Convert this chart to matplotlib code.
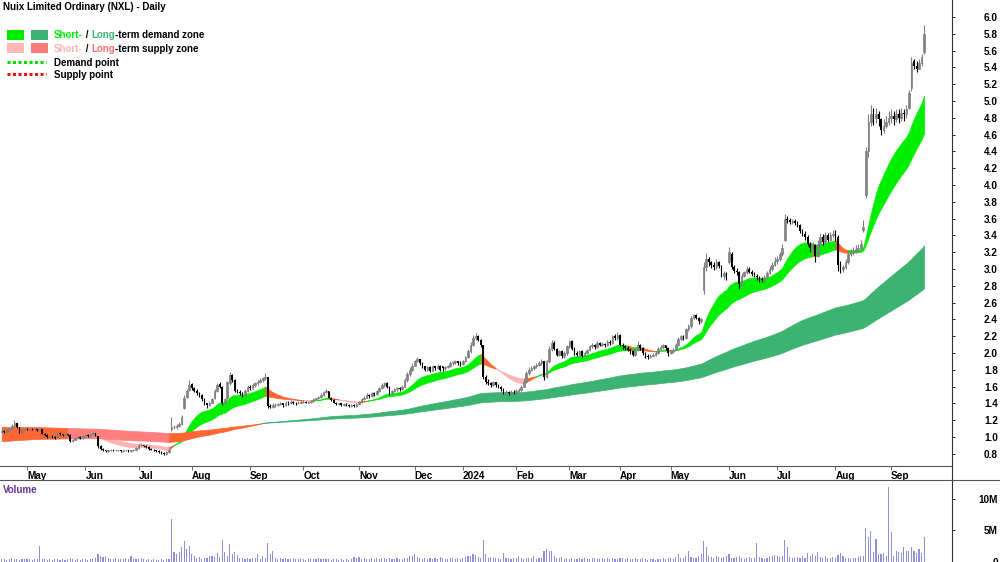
import numpy as np
import pandas as pd
import matplotlib
matplotlib.use('Agg')
import matplotlib.pyplot as plt
from matplotlib.patches import Rectangle
from matplotlib.lines import Line2D

plt.rcParams['font.family'] = ['Liberation Sans', 'DejaVu Sans']

# ASX trading days, 14 Apr 2023 - 19 Sep 2024
holidays = ['2023-04-25', '2023-06-12', '2023-12-25', '2023-12-26', '2024-01-01',
            '2024-01-26', '2024-03-29', '2024-04-01', '2024-04-25', '2024-06-10']
dates = pd.bdate_range('2023-04-14', '2024-09-19', freq='C', holidays=holidays)

# daily prices, one line per month
opens = [
    1.06,1.07,1.06,1.08,1.10,1.13,1.17,1.12,1.06,1.08,
    1.10,1.09,1.10,1.09,1.10,1.08,1.09,1.04,1.02,1.00,1.01,1.00,0.99,1.05,1.03,1.02,1.03,1.02,0.95,0.97,0.99,1.00,0.99,
    1.01,1.02,1.01,1.03,1.05,1.01,0.89,0.86,0.84,0.83,0.84,0.85,0.84,0.84,0.84,0.83,0.84,0.84,0.83,0.84,0.85,
    0.87,0.90,0.91,0.89,0.88,0.86,0.85,0.84,0.83,0.82,0.81,0.80,0.82,1.09,1.12,1.12,1.13,1.15,1.34,1.48,1.56,
    1.63,1.58,1.55,1.52,1.50,1.45,1.40,1.38,1.41,1.46,1.55,1.63,1.60,1.40,1.46,1.64,1.74,1.68,1.55,1.54,1.52,1.50,1.55,
    1.60,1.58,1.62,1.64,1.66,1.68,1.70,1.71,1.37,1.36,1.38,1.38,1.39,1.40,1.38,1.41,1.40,1.42,1.41,1.40,1.41,
    1.42,1.42,1.41,1.42,1.43,1.45,1.46,1.48,1.50,1.54,1.55,1.47,1.44,1.41,1.39,1.40,1.38,1.39,1.38,1.37,1.38,1.37,
    1.39,1.42,1.45,1.47,1.50,1.49,1.52,1.51,1.55,1.58,1.62,1.64,1.60,1.52,1.55,1.57,1.58,1.57,1.60,1.68,1.75,1.80,
    1.85,1.90,1.93,1.88,1.84,1.80,1.83,1.79,1.84,1.82,1.85,1.84,1.82,1.83,1.84,1.88,1.89,1.90,1.88,
    1.87,1.90,1.95,2.02,2.10,2.18,2.20,2.16,2.09,1.72,1.66,1.64,1.62,1.65,1.62,1.60,1.57,1.53,1.54,1.52,1.54,
    1.53,1.55,1.56,1.60,1.66,1.76,1.80,1.82,1.84,1.86,1.88,1.90,1.72,1.90,2.05,2.12,2.05,1.98,2.02,1.96,2.00,
    2.08,2.14,2.05,2.00,1.98,2.02,1.97,2.00,2.03,2.08,2.10,2.07,2.12,2.10,2.11,2.09,2.13,2.12,2.20,2.18,
    2.22,2.10,2.08,2.06,2.04,2.02,1.98,2.04,2.10,2.06,2.00,1.97,1.95,1.97,1.98,2.00,2.05,2.07,2.09,2.06,
    2.00,2.02,2.04,2.10,2.17,2.20,2.18,2.28,2.32,2.42,2.45,2.42,2.38,2.75,3.02,3.12,3.08,3.05,3.02,3.08,3.04,2.92,2.95,
    3.08,3.18,3.02,2.98,2.96,2.82,2.92,2.96,3.00,2.97,2.94,2.92,2.90,2.88,2.87,2.90,2.95,3.00,3.05,
    3.10,3.12,3.18,3.35,3.60,3.58,3.56,3.57,3.55,3.52,3.45,3.42,3.38,3.30,3.25,3.28,3.15,3.30,3.38,3.32,3.40,3.35,3.40,
    3.42,3.38,3.05,3.00,3.02,3.08,3.18,3.20,3.22,3.24,3.25,3.46,3.88,4.40,4.75,4.85,4.80,4.85,4.78,4.65,4.70,4.75,
    4.80,4.82,4.78,4.85,4.80,4.86,4.84,4.92,5.15,5.48,5.42,5.38,5.45,5.58,
]
highs = [
    1.09,1.08,1.09,1.11,1.15,1.20,1.17,1.12,1.09,1.11,
    1.11,1.11,1.11,1.11,1.10,1.10,1.09,1.05,1.03,1.02,1.02,1.01,1.06,1.06,1.04,1.04,1.04,1.03,0.98,1.00,1.01,1.01,1.02,
    1.03,1.03,1.04,1.06,1.05,1.01,0.90,0.87,0.85,0.85,0.86,0.86,0.85,0.85,0.85,0.85,0.85,0.85,0.85,0.86,0.88,
    0.92,0.93,0.91,0.90,0.89,0.87,0.86,0.85,0.84,0.83,0.82,0.83,0.86,1.24,1.14,1.15,1.18,1.26,1.50,1.57,1.68,
    1.64,1.60,1.57,1.54,1.51,1.46,1.41,1.43,1.47,1.57,1.64,1.65,1.61,1.47,1.67,1.77,1.75,1.69,1.57,1.56,1.54,1.57,1.62,
    1.62,1.64,1.66,1.68,1.70,1.72,1.76,1.72,1.39,1.40,1.40,1.41,1.42,1.41,1.43,1.43,1.44,1.43,1.42,1.43,1.44,
    1.44,1.43,1.43,1.44,1.46,1.47,1.49,1.52,1.55,1.57,1.55,1.48,1.45,1.42,1.41,1.41,1.40,1.40,1.39,1.39,1.39,1.40,
    1.43,1.47,1.49,1.52,1.51,1.54,1.53,1.56,1.60,1.64,1.66,1.65,1.61,1.56,1.58,1.60,1.59,1.62,1.70,1.77,1.83,1.88,
    1.92,1.95,1.93,1.89,1.85,1.85,1.84,1.86,1.85,1.87,1.86,1.84,1.85,1.86,1.90,1.91,1.92,1.91,1.90,
    1.92,1.97,2.05,2.13,2.21,2.24,2.21,2.17,2.10,1.74,1.69,1.66,1.67,1.66,1.63,1.61,1.58,1.56,1.55,1.56,1.56,
    1.57,1.58,1.62,1.68,1.78,1.83,1.84,1.86,1.88,1.90,1.93,1.91,1.92,2.08,2.16,2.14,2.06,2.04,2.03,2.02,2.10,
    2.16,2.15,2.07,2.02,2.04,2.03,2.02,2.05,2.10,2.12,2.11,2.14,2.13,2.13,2.12,2.15,2.15,2.22,2.23,2.25,
    2.23,2.12,2.10,2.08,2.06,2.03,2.06,2.14,2.11,2.07,2.01,1.99,1.99,2.00,2.02,2.07,2.10,2.11,2.10,2.07,
    2.04,2.06,2.12,2.19,2.22,2.21,2.30,2.35,2.44,2.47,2.46,2.43,2.42,3.08,3.19,3.14,3.10,3.08,3.12,3.10,3.05,2.98,2.97,
    3.26,3.20,3.05,3.01,2.98,2.95,2.98,3.03,3.02,2.99,2.96,2.94,2.92,2.91,2.93,2.98,3.03,3.08,3.14,
    3.15,3.20,3.30,3.66,3.63,3.61,3.60,3.59,3.57,3.53,3.48,3.45,3.40,3.32,3.32,3.30,3.35,3.43,3.42,3.44,3.43,3.44,3.47,
    3.46,3.40,3.10,3.05,3.12,3.22,3.24,3.26,3.28,3.30,3.34,3.58,4.45,4.85,4.95,4.92,4.92,4.88,4.80,4.78,4.82,4.88,
    4.90,4.88,4.90,4.90,4.92,4.90,4.95,5.13,5.52,5.50,5.48,5.50,5.56,5.90,
]
lows = [
    1.05,1.05,1.05,1.07,1.09,1.12,1.11,1.05,1.05,1.07,
    1.08,1.08,1.08,1.08,1.07,1.07,1.03,1.01,0.99,0.99,0.99,0.98,0.99,1.02,1.01,1.01,1.01,0.94,0.94,0.96,0.98,0.98,0.98,
    1.00,1.00,1.00,1.02,1.01,0.87,0.85,0.83,0.82,0.82,0.83,0.83,0.83,0.83,0.82,0.82,0.83,0.82,0.82,0.83,0.84,
    0.86,0.89,0.88,0.87,0.85,0.84,0.83,0.82,0.81,0.80,0.79,0.79,0.81,1.07,1.10,1.10,1.12,1.14,1.33,1.46,1.55,
    1.56,1.53,1.50,1.48,1.43,1.38,1.35,1.37,1.40,1.45,1.54,1.58,1.38,1.39,1.45,1.62,1.66,1.53,1.52,1.50,1.48,1.49,1.54,
    1.56,1.57,1.60,1.62,1.64,1.66,1.68,1.34,1.34,1.35,1.36,1.37,1.38,1.36,1.37,1.38,1.39,1.39,1.38,1.39,1.40,
    1.40,1.40,1.40,1.41,1.42,1.44,1.45,1.47,1.49,1.52,1.46,1.43,1.40,1.38,1.38,1.37,1.37,1.37,1.36,1.36,1.36,1.36,
    1.38,1.41,1.44,1.46,1.47,1.48,1.49,1.50,1.54,1.57,1.60,1.58,1.50,1.51,1.53,1.55,1.55,1.56,1.59,1.66,1.73,1.78,
    1.84,1.89,1.86,1.82,1.78,1.79,1.77,1.78,1.80,1.81,1.78,1.79,1.80,1.82,1.83,1.86,1.87,1.86,1.85,
    1.86,1.89,1.94,2.00,2.08,2.15,2.14,2.07,1.69,1.63,1.62,1.60,1.61,1.60,1.58,1.55,1.51,1.51,1.50,1.51,1.51,
    1.52,1.53,1.55,1.59,1.64,1.74,1.78,1.80,1.82,1.84,1.86,1.68,1.70,1.88,2.02,2.03,1.96,1.96,1.94,1.94,1.98,
    2.06,2.03,1.98,1.96,1.97,1.95,1.96,1.99,2.02,2.06,2.05,2.06,2.08,2.08,2.07,2.08,2.10,2.11,2.15,2.16,
    2.08,2.05,2.04,2.02,1.99,1.96,1.97,2.02,2.04,1.98,1.94,1.93,1.94,1.96,1.97,1.99,2.03,2.05,2.04,1.97,
    1.99,2.00,2.03,2.08,2.15,2.16,2.17,2.26,2.30,2.40,2.40,2.35,2.36,2.70,2.98,3.04,3.01,2.99,3.00,3.01,2.90,2.88,2.87,
    3.06,3.00,2.95,2.93,2.76,2.80,2.90,2.94,2.95,2.92,2.90,2.87,2.85,2.84,2.85,2.89,2.94,2.98,3.03,
    3.06,3.10,3.15,3.33,3.55,3.53,3.53,3.52,3.50,3.43,3.39,3.35,3.27,3.20,3.22,3.08,3.14,3.28,3.28,3.30,3.32,3.33,3.37,
    3.33,2.98,2.95,2.97,3.00,3.06,3.15,3.17,3.19,3.20,3.23,3.44,3.85,4.33,4.70,4.72,4.74,4.70,4.60,4.62,4.68,4.72,
    4.74,4.72,4.75,4.74,4.76,4.76,4.80,4.90,5.12,5.38,5.34,5.38,5.42,5.56,
]
closes = [
    1.07,1.06,1.08,1.10,1.13,1.17,1.12,1.06,1.08,1.10,
    1.09,1.10,1.09,1.10,1.08,1.09,1.04,1.02,1.00,1.01,1.00,0.99,1.05,1.03,1.02,1.03,1.02,0.95,0.97,0.99,1.00,0.99,1.01,
    1.02,1.01,1.03,1.05,1.02,0.89,0.86,0.84,0.83,0.84,0.85,0.84,0.84,0.84,0.83,0.84,0.84,0.83,0.84,0.85,0.87,
    0.90,0.91,0.89,0.88,0.86,0.85,0.84,0.83,0.82,0.81,0.80,0.82,0.85,1.12,1.12,1.13,1.15,1.24,1.47,1.55,1.62,
    1.58,1.55,1.52,1.50,1.45,1.40,1.38,1.41,1.45,1.55,1.62,1.60,1.40,1.45,1.65,1.74,1.68,1.55,1.54,1.52,1.50,1.55,1.60,
    1.58,1.62,1.64,1.66,1.68,1.70,1.72,1.37,1.36,1.38,1.38,1.39,1.40,1.38,1.41,1.40,1.42,1.41,1.40,1.41,1.42,
    1.42,1.41,1.42,1.43,1.45,1.46,1.48,1.50,1.54,1.55,1.47,1.44,1.41,1.39,1.40,1.38,1.39,1.38,1.37,1.38,1.37,1.39,
    1.42,1.45,1.47,1.50,1.49,1.52,1.51,1.55,1.58,1.62,1.64,1.60,1.52,1.55,1.57,1.58,1.57,1.60,1.68,1.75,1.80,1.85,
    1.90,1.93,1.88,1.84,1.80,1.83,1.79,1.84,1.82,1.85,1.80,1.82,1.83,1.84,1.88,1.89,1.90,1.88,1.87,
    1.90,1.95,2.02,2.10,2.18,2.20,2.16,2.10,1.72,1.66,1.64,1.62,1.65,1.62,1.60,1.57,1.53,1.54,1.52,1.54,1.53,
    1.55,1.56,1.60,1.66,1.76,1.80,1.82,1.84,1.86,1.88,1.90,1.72,1.90,2.05,2.12,2.05,1.98,2.02,1.96,2.00,2.08,
    2.14,2.05,2.00,1.98,2.02,1.97,2.00,2.03,2.08,2.10,2.07,2.12,2.10,2.11,2.09,2.13,2.12,2.20,2.18,2.22,
    2.10,2.08,2.06,2.04,2.02,1.98,2.04,2.10,2.06,2.00,1.97,1.95,1.97,1.98,2.00,2.05,2.07,2.09,2.06,2.00,
    2.02,2.04,2.10,2.17,2.20,2.18,2.28,2.32,2.42,2.45,2.42,2.38,2.40,3.02,3.12,3.08,3.05,3.02,3.08,3.04,2.92,2.95,2.90,
    3.20,3.02,2.98,2.96,2.82,2.92,2.96,3.00,2.97,2.94,2.92,2.90,2.88,2.87,2.90,2.95,3.00,3.05,3.10,
    3.12,3.18,3.25,3.60,3.58,3.56,3.57,3.55,3.52,3.45,3.42,3.38,3.30,3.25,3.28,3.15,3.30,3.38,3.32,3.40,3.35,3.40,3.42,
    3.38,3.05,3.00,3.02,3.08,3.18,3.20,3.22,3.24,3.25,3.30,3.50,4.40,4.75,4.85,4.80,4.85,4.78,4.65,4.70,4.75,4.80,
    4.82,4.78,4.85,4.80,4.86,4.84,4.90,5.10,5.45,5.42,5.38,5.45,5.52,5.80,
]
# volume in millions of shares
volumes = [
    0.4,0.5,0.3,0.4,0.6,0.5,0.4,0.3,0.5,0.4,
    0.5,0.4,0.3,0.4,0.5,2.6,0.4,0.5,0.3,0.4,0.3,0.4,0.5,0.3,0.4,0.3,0.5,0.6,0.4,0.3,0.4,0.3,0.4,
    0.4,0.3,0.5,0.4,0.6,1.3,0.9,0.8,0.9,0.6,0.5,0.4,0.6,0.5,0.4,0.5,0.6,0.4,0.9,0.5,0.4,
    0.5,0.6,0.4,0.3,0.4,0.3,0.4,0.3,0.3,0.4,0.3,0.4,0.5,6.8,1.6,1.2,1.6,2.3,3.3,2.1,2.6,
    1.3,0.9,0.6,0.8,0.5,0.7,0.6,0.9,1.0,0.8,1.4,0.8,3.5,1.6,1.0,2.9,1.2,1.6,1.1,0.6,0.7,0.5,0.6,
    0.5,0.7,0.6,1.2,0.5,1.0,0.7,3.0,1.2,1.7,0.6,0.5,0.7,0.4,0.6,0.5,0.4,0.6,0.5,0.4,0.5,
    0.4,0.3,0.5,0.4,0.5,0.4,0.6,0.5,0.4,0.5,0.4,0.3,0.5,0.4,0.3,0.4,0.3,0.4,0.3,0.4,0.8,0.7,
    0.8,0.5,0.6,0.5,0.4,0.6,0.5,0.7,0.5,0.6,0.7,0.5,0.6,0.4,0.5,0.6,0.5,0.4,0.6,0.7,0.9,1.0,
    1.3,0.8,0.7,0.5,0.6,0.5,0.7,0.4,0.6,0.5,0.8,0.6,0.5,0.4,0.6,0.7,0.5,0.6,0.5,
    0.6,0.8,1.0,0.9,1.2,1.1,0.8,0.7,3.5,1.3,0.7,0.8,0.6,0.7,0.6,0.5,1.4,0.7,0.6,0.5,0.6,
    0.7,0.9,0.6,0.5,0.7,0.6,0.6,1.0,0.5,0.6,0.7,1.7,2.1,1.8,1.8,0.9,0.7,0.6,0.8,0.5,0.6,
    0.5,0.6,0.4,0.5,0.7,0.5,0.6,0.4,0.5,0.7,0.6,0.5,0.4,0.6,0.5,0.7,0.5,0.6,0.4,0.5,
    0.7,0.6,0.5,0.6,0.4,0.5,0.6,0.4,0.5,0.6,0.4,0.3,0.5,0.4,0.3,0.5,0.4,0.6,0.5,0.7,
    0.6,0.5,0.8,1.3,0.7,0.6,1.0,1.8,0.8,0.6,0.7,0.9,1.2,3.4,2.3,1.0,0.8,0.7,0.9,0.8,0.7,0.8,0.9,
    1.2,0.6,0.7,0.8,0.9,0.6,0.5,0.7,0.8,0.6,0.7,3.0,0.8,0.6,0.5,0.7,0.9,1.0,1.1,
    1.0,0.8,0.9,3.5,2.3,0.8,0.7,0.6,0.8,0.7,0.9,0.7,1.5,1.0,1.3,0.9,1.6,0.8,0.7,0.9,0.6,0.7,0.8,
    0.6,1.1,1.4,1.0,0.7,0.6,0.5,0.6,0.7,0.8,0.9,1.0,5.4,3.9,4.9,1.6,3.6,1.3,1.3,1.4,0.9,11.9,
    4.8,1.0,1.7,1.6,1.4,2.3,1.8,1.8,2.4,1.7,1.4,2.1,1.5,4.0,
]

# zone averages: EMA periods and their levels at the first bar
short_periods = (18, 35)
short_start = (1.07, 1.08)
long_periods = (150, 250)
long_start = (0.95, 1.12)

price_ticks = np.arange(0.8, 6.01, 0.2)
vol_ticks = [0, 5, 10]
vol_labels = ['0', '5M', '10M']

opens = np.array(opens)
highs = np.array(highs)
lows = np.array(lows)
closes = np.array(closes)
volumes = np.array(volumes)
x = np.arange(len(closes))


def ema(values, n, start):
    out = np.empty(len(values))
    e = start
    a = 2.0 / (n + 1)
    for i, v in enumerate(values):
        e = e + a * (v - e)
        out[i] = e
    return out


def zone_state(fast, slow, close):
    # 1 demand, -1 supply, 0 undecided (orange)
    st = np.zeros(len(close), dtype=int)
    prev = 0
    for i in range(len(close)):
        if fast[i] > slow[i] and close[i] > slow[i]:
            s = 1
        elif fast[i] < slow[i] and (close[i] < fast[i] or (prev == -1 and close[i] < slow[i])):
            s = -1
        else:
            s = 0
        st[i] = s
        prev = s
    return st


def fill_zone(ax, fast, slow, st, colors, z):
    i = 0
    n = len(st)
    while i < n:
        j = i
        while j + 1 < n and st[j + 1] == st[i]:
            j += 1
        a = max(i - 1, 0)
        ax.fill_between(x[a:j + 1], fast[a:j + 1], slow[a:j + 1], color=colors[st[i]],
                        lw=0.5, zorder=z)
        i = j + 1


fig = plt.figure(figsize=(10, 5.62), dpi=100)
W, H = 1000.0, 562.0
ax = fig.add_axes([0, 96 / H, 952 / W, 466 / H])
axv = fig.add_axes([0, 0, 952 / W, 82 / H])

# zones
s_fast = ema(closes, short_periods[0], short_start[0])
s_slow = ema(closes, short_periods[1], short_start[1])
l_fast = ema(closes, long_periods[0], long_start[0])
l_slow = ema(closes, long_periods[1], long_start[1])
orange = '#ff6633'
fill_zone(ax, s_fast, s_slow, zone_state(s_fast, s_slow, closes),
          {1: '#00ee00', -1: '#ffb3b3', 0: orange}, 1)
fill_zone(ax, l_fast, l_slow, zone_state(l_fast, l_slow, closes),
          {1: '#3cb371', -1: '#ff7f7f', 0: orange}, 2)

# candles: hollow grey = up day, black = down day
up = closes >= opens
dn = ~up
ax.vlines(x[up], lows[up], highs[up], color='#808080', lw=0.8, zorder=3)
ax.vlines(x[dn], lows[dn], highs[dn], color='black', lw=0.8, zorder=3)
ax.bar(x[up], closes[up] - opens[up], bottom=opens[up], width=0.65,
       facecolor='none', edgecolor='#808080', lw=0.6, zorder=4)
ax.bar(x[dn], opens[dn] - closes[dn], bottom=closes[dn], width=0.65,
       color='black', lw=0, zorder=4)

ax.set_xlim(-0.67, 375.0)
ax.set_ylim(0.655, 6.202)
for s in ['top', 'left', 'right']:
    ax.spines[s].set_visible(False)
ax.spines['bottom'].set_color('#555555')

# month ticks
starts = [i for i in range(1, len(dates)) if dates[i].month != dates[i - 1].month]
labels = [str(dates[i].year) if dates[i].month == 1 else dates[i].strftime('%b') for i in starts]
ax.set_xticks(starts)
ax.set_xticklabels(labels, fontsize=7.2, fontweight='bold')
for lab in ax.get_xticklabels():
    lab.set_horizontalalignment('left')
ax.tick_params(axis='x', direction='out', length=3, width=0.6, color='#555555', pad=0.5)

ax.yaxis.tick_right()
ax.set_yticks(price_ticks)
ax.set_yticklabels(['%.1f' % v for v in price_ticks], fontsize=7.2, fontweight='bold')
ax.tick_params(axis='y', direction='out', length=2.5, width=0.6, pad=30.5)
for lab in ax.get_yticklabels():
    lab.set_horizontalalignment('right')

# volume
axv.bar(x, volumes, width=0.45, color='#9090d4', lw=0)
axv.set_xlim(-0.67, 375.0)
axv.set_ylim(0, 13.0)
for s in ['top', 'left', 'right', 'bottom']:
    axv.spines[s].set_visible(False)
axv.set_xticks([])
axv.yaxis.tick_right()
axv.set_yticks(vol_ticks)
axv.set_yticklabels(vol_labels, fontsize=7.2, fontweight='bold')
axv.tick_params(axis='y', direction='out', length=2.5, width=0.6, pad=30.5)
for lab in axv.get_yticklabels():
    lab.set_horizontalalignment('right')

# frame lines
fig.add_artist(Line2D([952 / W, 952 / W], [0, 1], transform=fig.transFigure, color='#333333', lw=0.8))
fig.add_artist(Line2D([0, 1], [1 - 480 / H] * 2, transform=fig.transFigure, color='#555555', lw=0.8))

# title and legend
bold = dict(fontsize=7, fontweight='bold')
fig.text(3 / W, 1 - 7.5 / H, 'Nuix Limited Ordinary (NXL) - Daily', va='center', ha='left', **bold)
fig.text(3 / W, 1 - 490 / H, 'Volume', va='center', ha='left', color='#663399', **bold)


def box(x0, y0, w, h, c):
    fig.add_artist(Rectangle((x0 / W, 1 - (y0 + h) / H), w / W, h / H,
                             transform=fig.transFigure, color=c, lw=0))


def colored_text(x0, y0, pieces):
    t = fig.text(x0 / W, 1 - y0 / H, pieces[0][0], color=pieces[0][1], va='center', ha='left', **bold)
    for s, c in pieces[1:]:
        t = ax.annotate(s, xy=(1, 0), xycoords=t, va='bottom', ha='left', color=c,
                        annotation_clip=False, **bold)


box(7, 30, 17, 10, '#00ee00')
box(31, 30, 17, 10, '#3cb371')
box(7, 43, 17, 10, '#ffb6b6')
box(31, 43, 17, 10, '#ff7a7a')
colored_text(54, 35.5, [('Short-', '#00ee00'), (' / ', 'black'), ('Long', '#3cb371'),
                        ('-term demand zone', 'black')])
colored_text(54, 48.5, [('Short-', '#ffb3b3'), (' / ', 'black'), ('Long', '#ff7070'),
                        ('-term supply zone', 'black')])
fig.add_artist(Line2D([7 / W, 46 / W], [1 - 62 / H] * 2, transform=fig.transFigure,
                      color='#00dd00', lw=2.2, ls=(0, (1, 0.8))))
fig.add_artist(Line2D([7 / W, 46 / W], [1 - 74 / H] * 2, transform=fig.transFigure,
                      color='#ee1111', lw=2.2, ls=(0, (1, 0.8))))
fig.text(54 / W, 1 - 62.5 / H, 'Demand point', va='center', ha='left', **bold)
fig.text(54 / W, 1 - 74.5 / H, 'Supply point', va='center', ha='left', **bold)

fig.savefig('out.png', dpi=100, facecolor='white')
